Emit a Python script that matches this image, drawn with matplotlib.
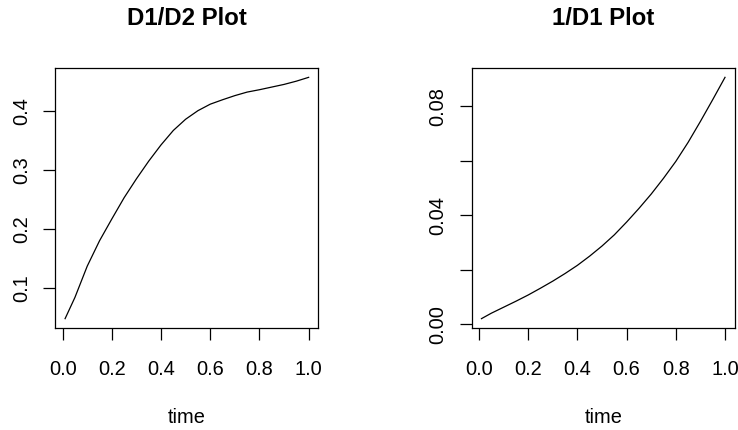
import matplotlib
matplotlib.use('Agg')
import matplotlib.pyplot as plt

plt.rcParams['font.family'] = ['Liberation Sans', 'DejaVu Sans']

# values
time = [0.01, 0.05, 0.10, 0.15, 0.20, 0.25, 0.30, 0.35, 0.40, 0.45, 0.50,
        0.55, 0.60, 0.65, 0.70, 0.75, 0.80, 0.85, 0.90, 0.95, 1.00]
d1_d2 = [0.048, 0.084, 0.137, 0.180, 0.217, 0.253, 0.285, 0.315, 0.3425, 0.367, 0.386,
         0.4005, 0.4115, 0.419, 0.426, 0.432, 0.436, 0.4405, 0.445, 0.4505, 0.457]
inv_d1 = [0.0020, 0.0040, 0.0062, 0.0084, 0.0107, 0.0132, 0.0158, 0.0186, 0.0216, 0.0250, 0.0287,
          0.0328, 0.0375, 0.0425, 0.0478, 0.0536, 0.0598, 0.0668, 0.0745, 0.0825, 0.0907]

titles = ['D1/D2 Plot', '1/D1 Plot']
xticks = [0.0, 0.2, 0.4, 0.6, 0.8, 1.0]
xticklabels = ['0.0', '0.2', '0.4', '0.6', '0.8', '1.0']
yticks_left = [0.1, 0.2, 0.3, 0.4]
yticklabels_left = ['0.1', '0.2', '0.3', '0.4']
yticks_right = [0.00, 0.02, 0.04, 0.06, 0.08]
yticklabels_right = ['0.00', '', '0.04', '', '0.08']

fs = 14.4


def r_lim(v):
    # R style 4% padding
    lo, hi = min(v), max(v)
    pad = 0.04 * (hi - lo)
    return lo - pad, hi + pad


fig = plt.figure(figsize=(7.38, 4.30), dpi=100)
ax1 = fig.add_axes([0.075, 0.2365, 0.3564, 0.6061])
ax2 = fig.add_axes([0.6392, 0.2365, 0.3564, 0.6061])

panels = [
    (ax1, d1_d2, yticks_left, yticklabels_left, titles[0]),
    (ax2, inv_d1, yticks_right, yticklabels_right, titles[1]),
]

for ax, yv, yt, ytl, title in panels:
    ax.plot(time, yv, color='black', lw=0.9)
    ax.set_xlim(*r_lim(time))
    ax.set_ylim(*r_lim(yv))
    ax.set_xticks(xticks)
    ax.set_xticklabels(xticklabels)
    ax.set_yticks(yt)
    ax.set_yticklabels(ytl, rotation=90, va='center')
    ax.tick_params(axis='both', direction='out', length=8.5, width=0.9,
                   labelsize=fs, color='black')
    ax.tick_params(axis='x', pad=14)
    ax.tick_params(axis='y', pad=9)
    for s in ax.spines.values():
        s.set_linewidth(0.9)
        s.set_color('black')
    ax.set_xlabel('time', fontsize=fs, labelpad=21)
    ax.set_title(title, fontsize=fs * 1.2, fontweight='bold', pad=30.7)

fig.savefig('out.png', dpi=100)
